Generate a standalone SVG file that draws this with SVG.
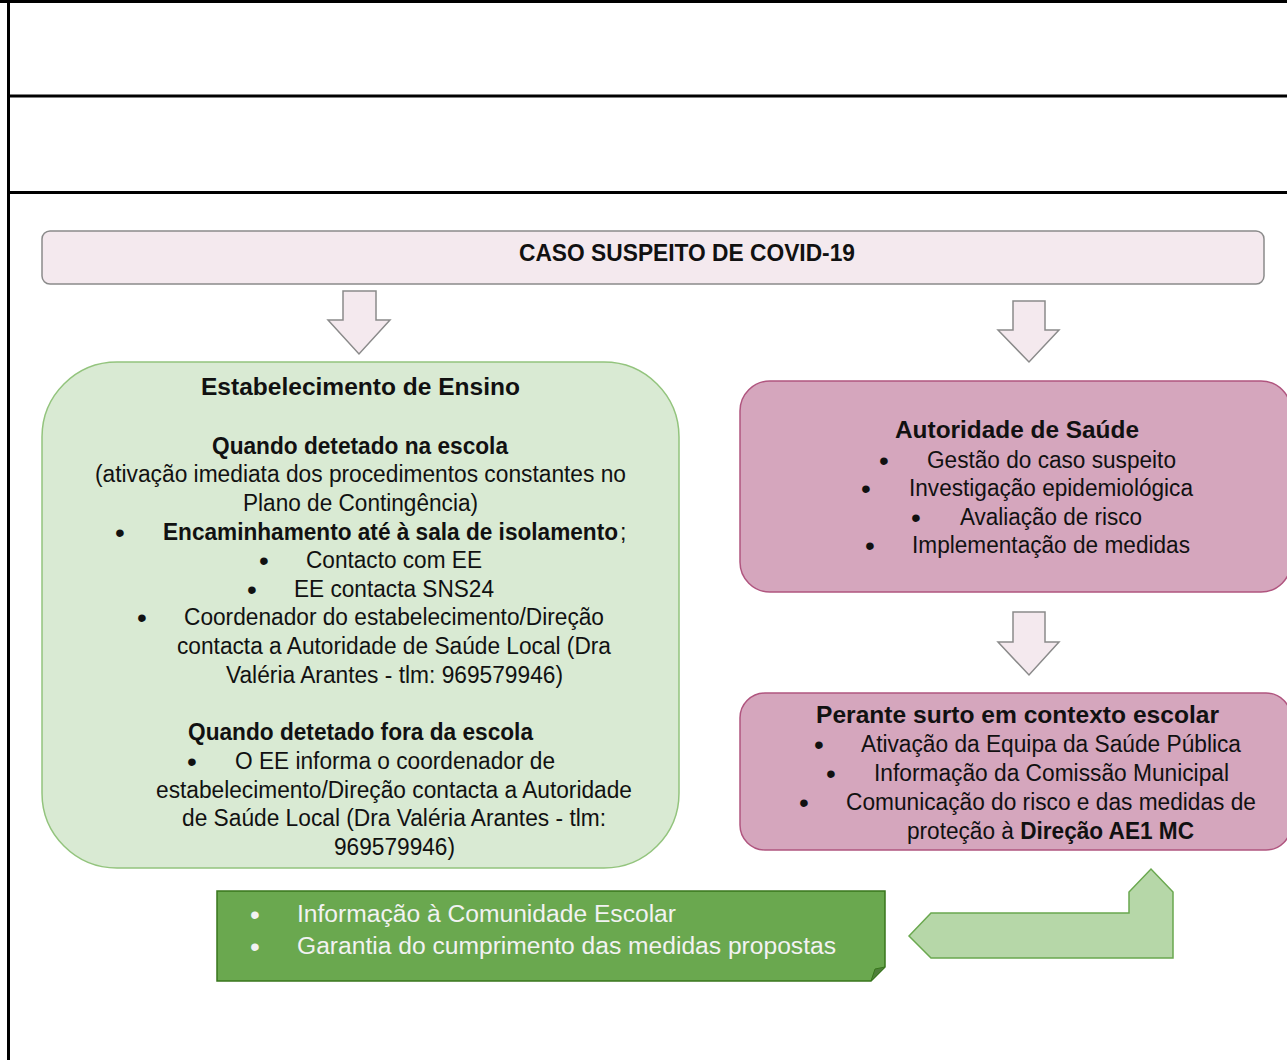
<svg xmlns="http://www.w3.org/2000/svg" width="1287" height="1060" viewBox="0 0 1287 1060">
<defs>
<style>
.t{font-family:"Liberation Sans",Arial,sans-serif;font-size:23px;fill:#111}
.bl{font-family:"Liberation Sans",Arial,sans-serif;font-size:28px;fill:#111}
.b{font-weight:bold}
.w{fill:#f2f2f2}
.frame{stroke:#000;stroke-width:3;fill:none}
.arr{fill:#f4e9ee;stroke:#8a8a8a;stroke-width:1.5}
.pink{fill:#d5a6bd;stroke:#b0557f;stroke-width:1.5}
</style>
</defs>
<rect width="1287" height="1060" fill="#fff"/>
<g id="frame">
<line class="frame" x1="0" y1="1.5" x2="1287" y2="1.5"/>
<line class="frame" x1="8.5" y1="0" x2="8.5" y2="1060"/>
<line class="frame" x1="8.5" y1="96" x2="1287" y2="96"/>
<line class="frame" x1="8.5" y1="192.5" x2="1287" y2="192.5"/>
</g>
<g id="connectors">
<path class="arr" d="M343,291 H376 V320 H390 L359,354 L328,320 H343 Z"/>
<path class="arr" d="M1013,301 H1045 V330 H1059 L1029,362 L998,330 H1013 Z"/>
<path class="arr" d="M1013,612 H1045 V642 H1059 L1029,675 L998,642 H1013 Z"/>
<path d="M909,936 L931,913 H1129 V892 L1151,869 L1173,892 V958 H931 Z" fill="#b6d7a8" stroke="#6aa84f" stroke-width="1.5"/>
</g>
<g id="caso">
<rect x="42" y="231" width="1222" height="53" rx="8" fill="#f4e9ee" stroke="#8a8a8a" stroke-width="1.5"/>
<text class="t b" x="519" y="261" textLength="336" lengthAdjust="spacingAndGlyphs">CASO SUSPEITO DE COVID-19</text>
</g>
<g id="ensino">
<rect x="42" y="362" width="637" height="506" rx="75" fill="#d9ead3" stroke="#93c47d" stroke-width="1.5"/>
<text class="t b" x="201" y="395" textLength="319" lengthAdjust="spacingAndGlyphs">Estabelecimento de Ensino</text>
<text class="t b" x="212" y="454" textLength="296" lengthAdjust="spacingAndGlyphs">Quando detetado na escola</text>
<text class="t" x="95" y="482" textLength="531" lengthAdjust="spacingAndGlyphs">(ativação imediata dos procedimentos constantes no</text>
<text class="t" x="243" y="511" textLength="235" lengthAdjust="spacingAndGlyphs">Plano de Contingência)</text>
<text class="bl" x="115" y="542">•</text>
<text class="t b" x="163" y="540" font-size="21" textLength="455" lengthAdjust="spacingAndGlyphs">Encaminhamento até à sala de isolamento</text>
<text class="t" x="620" y="540">;</text>
<text class="bl" x="259" y="570">•</text>
<text class="t" x="306" y="568" textLength="176" lengthAdjust="spacingAndGlyphs">Contacto com EE</text>
<text class="bl" x="247" y="599">•</text>
<text class="t" x="294" y="597" textLength="200" lengthAdjust="spacingAndGlyphs">EE contacta SNS24</text>
<text class="bl" x="137" y="627">•</text>
<text class="t" x="184" y="625" textLength="420" lengthAdjust="spacingAndGlyphs">Coordenador do estabelecimento/Direção</text>
<text class="t" x="177" y="654" textLength="434" lengthAdjust="spacingAndGlyphs">contacta a Autoridade de Saúde Local (Dra</text>
<text class="t" x="226" y="683" textLength="337" lengthAdjust="spacingAndGlyphs">Valéria Arantes - tlm: 969579946)</text>
<text class="t b" x="188" y="740" textLength="345" lengthAdjust="spacingAndGlyphs">Quando detetado fora da escola</text>
<text class="bl" x="187" y="771">•</text>
<text class="t" x="235" y="769" textLength="320" lengthAdjust="spacingAndGlyphs">O EE informa o coordenador de</text>
<text class="t" x="156" y="798" textLength="476" lengthAdjust="spacingAndGlyphs">estabelecimento/Direção contacta a Autoridade</text>
<text class="t" x="182" y="826" textLength="424" lengthAdjust="spacingAndGlyphs">de Saúde Local (Dra Valéria Arantes - tlm:</text>
<text class="t" x="334" y="855" textLength="121" lengthAdjust="spacingAndGlyphs">969579946)</text>
</g>
<g id="autoridade">
<rect class="pink" x="740" y="381" width="551" height="211" rx="30"/>
<text class="t b" x="895" y="438" textLength="244" lengthAdjust="spacingAndGlyphs">Autoridade de Saúde</text>
<text class="bl" x="879" y="470">•</text>
<text class="t" x="927" y="468" textLength="249" lengthAdjust="spacingAndGlyphs">Gestão do caso suspeito</text>
<text class="bl" x="861" y="498">•</text>
<text class="t" x="909" y="496" textLength="284" lengthAdjust="spacingAndGlyphs">Investigação epidemiológica</text>
<text class="bl" x="911" y="527">•</text>
<text class="t" x="960" y="525" textLength="182" lengthAdjust="spacingAndGlyphs">Avaliação de risco</text>
<text class="bl" x="865" y="555">•</text>
<text class="t" x="912" y="553" textLength="278" lengthAdjust="spacingAndGlyphs">Implementação de medidas</text>
</g>
<g id="surto">
<rect class="pink" x="740" y="693" width="551" height="157" rx="25"/>
<text class="t b" x="816" y="723" textLength="403" lengthAdjust="spacingAndGlyphs">Perante surto em contexto escolar</text>
<text class="bl" x="814" y="754">•</text>
<text class="t" x="861" y="752" textLength="380" lengthAdjust="spacingAndGlyphs">Ativação da Equipa da Saúde Pública</text>
<text class="bl" x="826" y="783">•</text>
<text class="t" x="874" y="781" textLength="355" lengthAdjust="spacingAndGlyphs">Informação da Comissão Municipal</text>
<text class="bl" x="799" y="812">•</text>
<text class="t" x="846" y="810" textLength="410" lengthAdjust="spacingAndGlyphs">Comunicação do risco e das medidas de</text>
<text class="t" x="907" y="839" textLength="287" lengthAdjust="spacingAndGlyphs">proteção à <tspan class="b">Direção AE1 MC</tspan></text>
</g>
<g id="comunidade">
<path d="M217,891 H885 V967 L871,981 H217 Z" fill="#6aa84f" stroke="#38761d" stroke-width="1.5"/>
<path d="M885,967 L871,981 L875,969 Z" fill="#4f7f3a" stroke="#38761d" stroke-width="1"/>
<text class="bl w" x="250" y="924">•</text>
<text class="t w" x="297" y="922" textLength="379" lengthAdjust="spacingAndGlyphs">Informação à Comunidade Escolar</text>
<text class="bl w" x="250" y="956">•</text>
<text class="t w" x="297" y="954" textLength="539" lengthAdjust="spacingAndGlyphs">Garantia do cumprimento das medidas propostas</text>
</g>
</svg>
